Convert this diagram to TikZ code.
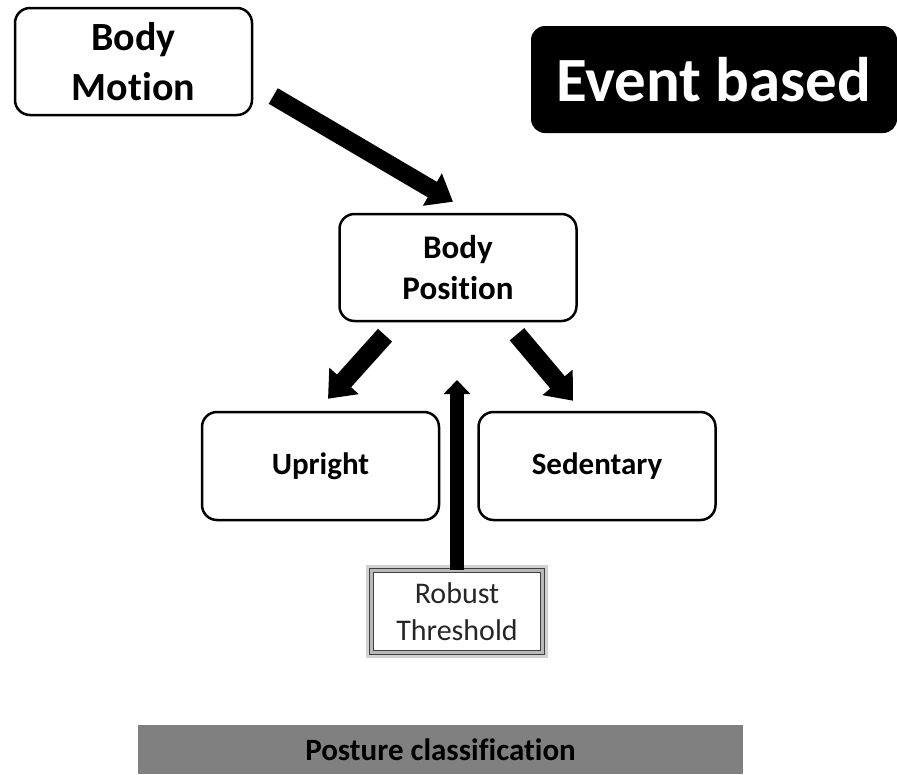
\documentclass[tikz,border=0pt]{standalone}
\usepackage{fontspec}
\setmainfont[RawFeature={-liga}]{Carlito}
\usetikzlibrary{arrows.meta}
\begin{document}
\begin{tikzpicture}[x=1pt, y=-1pt,
  box/.style={draw, line width=2.5pt, rounded corners=15pt, minimum width=237pt, minimum height=107pt, align=center, font=\bfseries\fontsize{31}{41}\selectfont},
  fat/.style={line width=19pt, -{Triangle[length=24pt, width=38pt]}},
  thin/.style={line width=14pt, -{Triangle[length=14pt, width=26pt]}}]
\useasboundingbox (0,0) rectangle (897,774);
% boxes
\node[box, font=\bfseries\fontsize{40}{50}\selectfont] (bm) at (133.5,61.5) {Body\\Motion};
\node[box, font=\bfseries\fontsize{33}{41}\selectfont] (bp) at (458,267.5) {Body\\Position};
\node[box, minimum height=108pt] (up) at (320.5,466) {Upright};
\node[box, minimum height=108pt] (sd) at (597,466) {Sedentary};
\node[fill=black, text=white, rounded corners=14pt, minimum width=366pt, minimum height=107pt, font=\bfseries\fontsize{63}{70}\selectfont] (ev) at (714,79.5) {Event based};
\draw[gray!35, line width=6pt] (369,568) rectangle (545,655);
\node[draw=black!75, double=gray!55, double distance=2.5pt, line width=1.5pt, minimum width=171pt, minimum height=82pt, align=center, text=black!85, font=\fontsize{30}{37}\selectfont] (rt) at (457,611.5) {Robust\\Threshold};
\node[fill=gray, minimum width=605pt, minimum height=49pt, font=\bfseries\fontsize{31}{36}\selectfont] (pc) at (440.5,749.5) {Posture classification};
% arrows
\coordinate (top) at (457,380);
\draw[fat, line width=18pt, -{Triangle[length=24pt, width=36pt]}] ([shift={(20,34.5)}]bm.east) -- ([shift={(-5,-11)}]bp.north);
\draw[fat] ([shift={(-73,13)}]bp.south) -- ([shift={(7.5,-12)}]up.north);
\draw[fat] ([shift={(59,12)}]bp.south) -- ([shift={(-24,-10)}]sd.north);
\draw[thin] (rt.north) -- (top);
\end{tikzpicture}
\end{document}
